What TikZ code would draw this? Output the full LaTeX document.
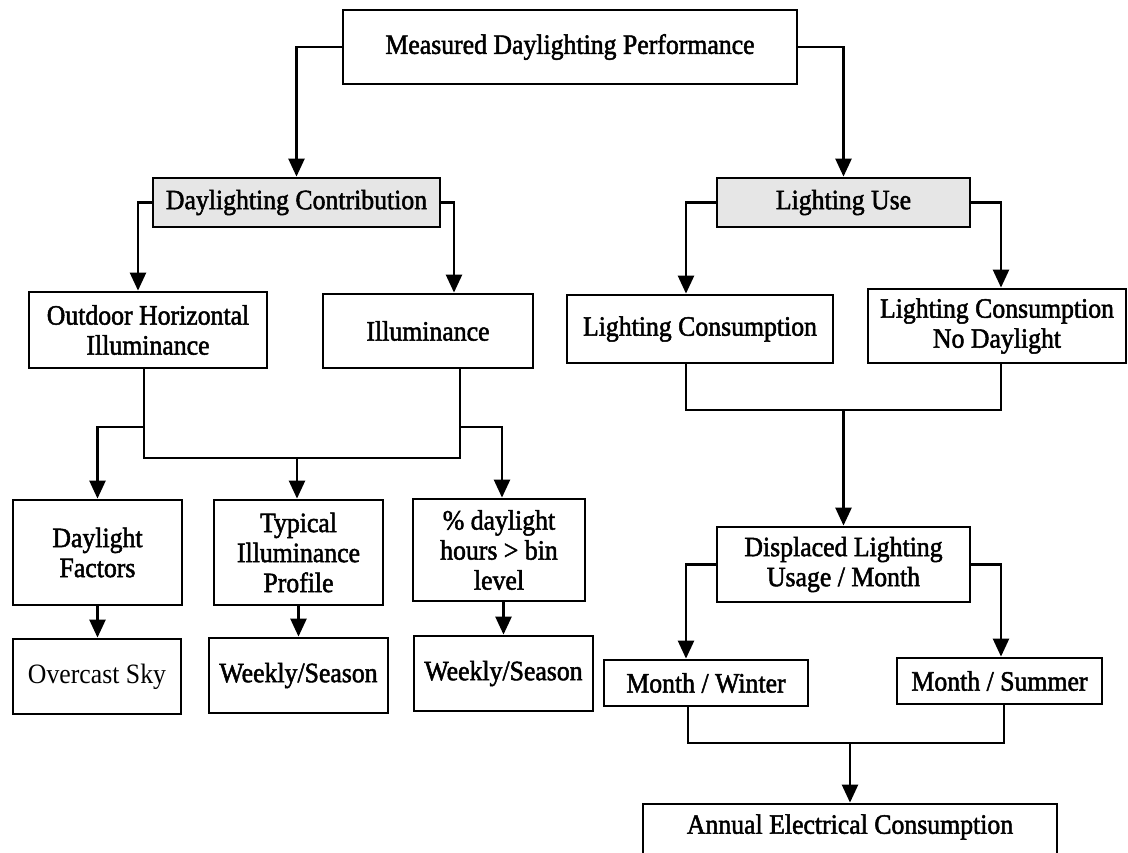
\documentclass[tikz,border=0pt]{standalone}
\usepackage{fontspec}
\setmainfont{Liberation Serif}[FakeStretch=0.92, BoldFont=Liberation Serif, BoldFeatures={FakeBold=1.8}]
\usetikzlibrary{arrows.meta}
\definecolor{boxgray}{HTML}{E6E6E6}
\tikzset{
  box/.style={draw=black, line width=2.8pt, inner sep=0pt, align=center,
              font=\fontsize{28}{30}\selectfont\bfseries, fill=white},
  graybox/.style={box, fill=boxgray},
  conn/.style={draw=black, line width=2.5pt},
  arr/.style={conn, -{Triangle[length=18pt,width=16pt]}},
  txt/.style={inner sep=0pt, align=center, font=\fontsize{28}{30}\selectfont\bfseries}
}
\begin{document}
\begin{tikzpicture}[x=1pt,y=-1pt]
\useasboundingbox (0,0) rectangle (1128,853);
% boxes
\node[box, minimum width=454, minimum height=74] (T) at (570,47) {Measured Daylighting Performance};
\node[graybox, minimum width=287, minimum height=49] (DC) at (296.5,202.5) {Daylighting Contribution};
\node[graybox, minimum width=253, minimum height=49] (LU) at (843.5,202.5) {Lighting Use};
\node[box, minimum width=238, minimum height=76] (OHI) at (148,330) {Outdoor Horizontal\\Illuminance};
\node[box, minimum width=210, minimum height=74] (ILL) at (428,331) {Illuminance};
\node[box, minimum width=169, minimum height=105] (DF) at (97.5,552.5) {Daylight\\Factors};
\node[box, minimum width=169, minimum height=105] (TIP) at (298.5,552.5) {Typical\\Illuminance\\Profile};
\node[box, minimum width=172, minimum height=102] (PCT) at (499,550) {\% daylight\\hours > bin\\level};
\node[box, minimum width=168, minimum height=75, font=\fontsize{28}{30}\selectfont\mdseries] (OC) at (97,676.5) {Overcast Sky};
\node[box, minimum width=179, minimum height=75] (W1) at (298.5,675.5) {Weekly/Season};
\node[box, minimum width=179, minimum height=75] (W2) at (503.5,673.5) {Weekly/Season};
\node[box, minimum width=266, minimum height=68] (LC) at (700,329) {Lighting Consumption};
\node[box, minimum width=258, minimum height=74] (LCND) at (997,326) {Lighting Consumption\\No Daylight};
\node[box, minimum width=253, minimum height=75] (DL) at (843.5,564.5) {Displaced Lighting\\Usage / Month};
\node[box, minimum width=204, minimum height=46] (MW) at (706,683) {Month / Winter};
\node[box, minimum width=205, minimum height=46] (MS) at (999.5,681) {Month / Summer};
\node[box, minimum width=414, minimum height=60] (AEC) at (850,834) {};
\node[txt] (AECt) at (850,827) {Annual Electrical Consumption};
% junction coordinates
\coordinate (ua) at (144,458);
\coordinate (ub) at (460,458);
\coordinate (uc) at (297,458);
\coordinate (va) at (686,410);
\coordinate (vb) at (1001,410);
\coordinate (vc) at (843.5,410);
\coordinate (wa) at (688,743);
\coordinate (wb) at (1004,743);
\coordinate (wc) at (850,743);
% connectors
\draw[arr] (T.west) -| (DC.north);
\draw[arr] (T.east) -| (LU.north);
\draw[arr] (DC.west) -| ([xshift=-10pt]OHI.north);
\draw[arr] (DC.east) -| ([xshift=26pt]ILL.north);
\draw[arr] (LU.west) -| ([xshift=-14pt]LC.north);
\draw[arr] (LU.east) -| ([xshift=4pt]LCND.north);
\draw[conn] (ua |- OHI.south) -- (ua) -- (ub) -- (ub |- ILL.south);
\draw[arr] (ua |- 0,427) -| (DF.north);
\draw[arr] (uc) -- (uc |- TIP.north);
\draw[arr] (ub |- 0,427) -| ([xshift=3pt]PCT.north);
\draw[arr] (DF.south) -- (DF.south |- OC.north);
\draw[arr] (TIP.south) -- (TIP.south |- W1.north);
\draw[arr] (PCT.south -| W2.north) -- (W2.north);
\draw[conn] (va |- LC.south) -- (va) -- (vb) -- (vb |- LCND.south);
\draw[arr] (vc) -- (DL.north);
\draw[arr] (DL.west) -| (MW.north -| va);
\draw[arr] (DL.east) -| (MS.north -| vb);
\draw[conn] (wa |- MW.south) -- (wa) -- (wb) -- (wb |- MS.south);
\draw[arr] (wc) -- (AEC.north);
\end{tikzpicture}
\end{document}
